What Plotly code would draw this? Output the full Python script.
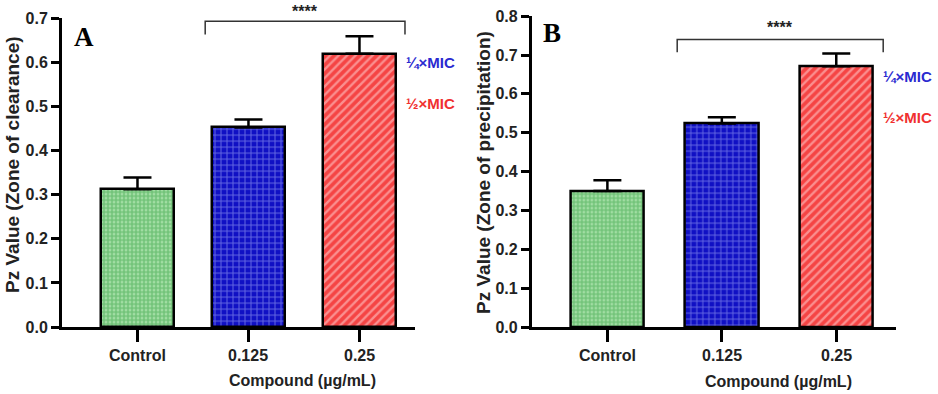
import plotly.graph_objects as go
from plotly.subplots import make_subplots

categories = ["Control", "0.125", "0.25"]
values_a = [0.312, 0.452, 0.619]
errors_a = [0.027, 0.018, 0.040]
values_b = [0.350, 0.524, 0.671]
errors_b = [0.028, 0.016, 0.033]
yticks_a = [0.0, 0.1, 0.2, 0.3, 0.4, 0.5, 0.6, 0.7]
yticks_b = [0.0, 0.1, 0.2, 0.3, 0.4, 0.5, 0.6, 0.7, 0.8]
ytitle_a = "Pz Value (Zone of clearance)"
ytitle_b = "Pz Value (Zone of precipitation)"
xtitle = "Compound (µg/mL)"
mic_labels = ["¼×MIC", "½×MIC"]

W, H = 938, 394
FONT = "Liberation Sans, Arial, sans-serif"
TXT = "#222"
patterns = [
    dict(shape=".", bgcolor="#b4e8b4", fgcolor="#34a042", size=4, solidity=0.75),
    dict(shape="+", bgcolor="#1010c4", fgcolor="#b8c0ff", size=6, solidity=0.3),
    dict(shape="/", bgcolor="#f54444", fgcolor="#ffdada", size=6, solidity=0.4),
]

def px(x, y):
    return x / W, 1 - y / H

fig = make_subplots(rows=1, cols=2)

def add_bars(vals, errs, col, width):
    for i, cat in enumerate(categories):
        fig.add_trace(go.Bar(
            x=[cat], y=[vals[i]], width=width,
            marker=dict(pattern=patterns[i], line=dict(color="black", width=2.5)),
            error_y=dict(type="data", symmetric=False, array=[errs[i]], arrayminus=[0],
                         color="black", thickness=2.5, width=14),
            showlegend=False,
        ), row=1, col=col)

add_bars(values_a, errors_a, 1, 0.65)
add_bars(values_b, errors_b, 2, 0.64)

axis_common = dict(showline=True, linecolor="black", linewidth=3, ticks="outside",
                   tickcolor="black", tickwidth=2.5, showgrid=False, zeroline=False,
                   tickfont=dict(family=FONT, size=16, color=TXT, weight="bold"),
                   automargin=False)

fig.update_layout(
    width=W, height=H, margin=dict(l=0, r=0, t=0, b=0),
    paper_bgcolor="white", plot_bgcolor="white", bargap=0,
    xaxis=dict(domain=[0.0661, 0.4424], range=[-0.68, 2.5], type="category", ticklen=12,
               showticklabels=False, **axis_common),
    xaxis2=dict(domain=[0.567, 0.955], range=[-0.66, 2.52], type="category", ticklen=12,
                showticklabels=False, **axis_common),
    yaxis=dict(domain=[0.170, 0.954], range=[0, 0.7], tickvals=yticks_a,
               ticktext=[f"{v:.1f}" for v in yticks_a], ticklen=8, **axis_common),
    yaxis2=dict(domain=[0.170, 0.959], range=[0, 0.8], tickvals=yticks_b,
                ticktext=[f"{v:.1f}" for v in yticks_b], ticklen=8, **axis_common),
)

def note(x, y, text, size, color=TXT, family=FONT, **kw):
    ax, ay = px(x, y)
    fig.add_annotation(xref="paper", yref="paper", x=ax, y=ay, text=text, showarrow=False,
                       xanchor=kw.pop("xanchor", "center"), yanchor="middle",
                       font=dict(family=family, size=size, color=color, weight="bold"), **kw)

# category labels under x axes
for xr in ["x", "x2"]:
    for i, cat in enumerate(categories):
        fig.add_annotation(xref=xr, yref="paper", x=i, y=px(0, 355)[1], text=cat, showarrow=False,
                           xanchor="center", yanchor="middle",
                           font=dict(family=FONT, size=16, color=TXT, weight="bold"))

# significance brackets
for xr, yr, ytop, drop, star_px in [("x", "y", 0.693, 0.030, (305, 11)), ("x2", "y2", 0.740, 0.033, (780, 28))]:
    fig.add_shape(type="path", xref=xr, yref=yr,
                  path=f"M 0.61 {ytop-drop} L 0.61 {ytop} L 2.41 {ytop} L 2.41 {ytop-drop}",
                  line=dict(color="#333", width=1.5))
    note(star_px[0], star_px[1], "****", 16, borderpad=0)

# axis titles
note(12, 165, ytitle_a, 19, textangle=-90)
note(483, 173, ytitle_b, 19, textangle=-90)
note(302, 380, xtitle, 16)
note(778, 381, xtitle, 16)

# panel letters
note(84, 37, "A", 27, color="black", family="Liberation Serif, Times New Roman, serif")
note(552, 33, "B", 27, color="black", family="Liberation Serif, Times New Roman, serif")

# MIC labels
for x0, y1, y2 in [(405, 62, 103), (882, 77, 117)]:
    note(x0, y1, mic_labels[0], 15, color="#2a2ad0", xanchor="left", borderpad=0)
    note(x0, y2, mic_labels[1], 15, color="#f03030", xanchor="left", borderpad=0)

fig.write_html("out.html", config={"displayModeBar": False},
               post_script="document.body.style.margin='0';")
